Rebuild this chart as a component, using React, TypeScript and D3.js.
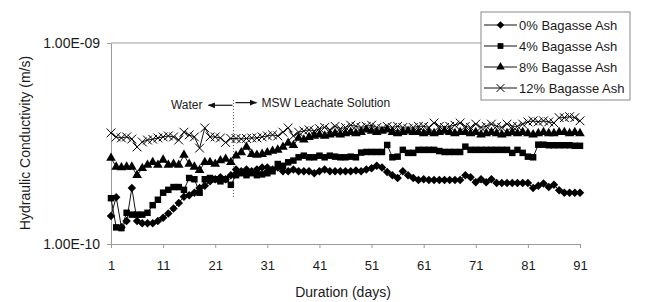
import React, { useEffect, useRef } from 'react';
import * as d3 from 'd3';

// values are in units of 1e-10 m/s, one per day (day 1 .. 91)
const days = d3.range(1, 92);
const unit = 1e-10;

const ash0 = [
  1.38, 1.71, 1.21, 1.3, 1.9, 1.3, 1.27, 1.27, 1.27, 1.3,
  1.35, 1.42, 1.5, 1.6, 1.72, 1.75, 1.8, 1.9, 1.95, 2.05,
  2.1, 2.15, 2.1, 2.2, 2.35, 2.3, 2.35, 2.3, 2.35, 2.4,
  2.4, 2.35, 2.4, 2.3, 2.3, 2.35, 2.3, 2.3, 2.3, 2.25,
  2.3, 2.35, 2.3, 2.3, 2.3, 2.3, 2.3, 2.32, 2.3, 2.35,
  2.38, 2.45, 2.4, 2.28, 2.2, 2.13, 2.3, 2.2, 2.13, 2.08,
  2.1, 2.08, 2.08, 2.08, 2.08, 2.08, 2.08, 2.08, 2.2, 2.15,
  2.03, 2.1, 2.03, 2.1, 2.01, 2.01, 2.01, 2.01, 2.01, 2.01,
  2.01, 1.9, 1.95, 2.0, 1.92, 1.97, 1.85, 1.8, 1.8, 1.8, 1.8,
];
const ash4 = [
  1.69, 1.21, 1.2, 1.43, 1.4, 1.4, 1.4, 1.43, 1.56, 1.66,
  1.8, 1.86, 1.92, 1.92, 1.86, 2.13, 2.1, 1.8, 2.1, 2.13,
  2.1, 2.05, 2.1, 1.97, 2.2, 2.25, 2.2, 2.25, 2.2, 2.22,
  2.25, 2.3, 2.5, 2.45, 2.55, 2.6, 2.7, 2.75, 2.7, 2.7,
  2.75, 2.7, 2.75, 2.72, 2.7, 2.7, 2.72, 2.7, 2.85, 2.87,
  2.87, 2.87, 2.87, 3.11, 2.7, 2.72, 2.94, 2.84, 2.84, 2.94,
  2.94, 2.94, 2.94, 2.9, 2.87, 2.87, 2.87, 2.87, 3.05, 2.94,
  2.94, 2.94, 2.94, 2.94, 2.94, 2.94, 2.94, 2.84, 2.94, 2.84,
  2.72, 2.7, 3.12, 3.12, 3.1, 3.1, 3.1, 3.1, 3.1, 3.08, 3.08,
];
const ash8 = [
  2.68, 2.42, 2.4, 2.42, 2.42, 2.2, 2.38, 2.47, 2.55, 2.47,
  2.62, 2.47, 2.5, 2.47, 2.77, 2.5, 2.42, 2.33, 2.55, 2.55,
  2.5, 2.6, 2.65, 2.55, 2.75, 2.85, 3.04, 2.8, 2.77, 2.8,
  2.85, 2.9, 2.94, 3.04, 3.18, 3.1, 3.37, 3.3, 3.4, 3.45,
  3.5, 3.45, 3.5, 3.55, 3.5, 3.55, 3.6, 3.55, 3.6, 3.7,
  3.65, 3.6, 3.65, 3.7, 3.6, 3.55, 3.6, 3.65, 3.6, 3.6,
  3.55, 3.6, 3.55, 3.6, 3.65, 3.6, 3.55, 3.6, 3.6, 3.55,
  3.6, 3.5, 3.55, 3.6, 3.55, 3.5, 3.55, 3.6, 3.55, 3.6,
  3.55, 3.5, 3.55, 3.6, 3.55, 3.55, 3.6, 3.6, 3.55, 3.6, 3.55,
];
const ash12 = [
  3.57, 3.41, 3.37, 3.41, 3.33, 3.04, 3.22, 3.29, 3.32, 3.37,
  3.41, 3.45, 3.41, 3.29, 3.6, 3.49, 3.41, 3.0, 3.78, 3.41,
  3.41, 3.37, 3.2, 3.35, 3.35, 3.33, 3.35, 3.37, 3.37, 3.41,
  3.45, 3.49, 3.45, 3.6, 3.78, 3.45, 3.6, 3.65, 3.7, 3.65,
  3.75, 3.8, 3.7, 3.85, 3.75, 3.8, 3.9, 3.85, 3.8, 3.85,
  3.9, 3.8, 3.75, 3.85, 3.8, 3.85, 3.8, 3.75, 3.8, 3.85,
  3.85, 3.8, 4.0, 3.85, 3.8, 3.85, 3.9, 4.0, 3.85, 3.8,
  3.95, 3.8, 3.85, 3.95, 3.85, 3.8, 3.95, 3.85, 3.85, 3.95,
  4.05, 4.1, 4.05, 4.1, 4.05, 4.0, 4.25, 4.25, 4.3, 4.25, 4.1,
];

const seriesNames = ['0% Bagasse Ash', '4% Bagasse Ash', '8% Bagasse Ash', '12% Bagasse Ash'];
const seriesValues = [ash0, ash4, ash8, ash12];

const xTicks = [1, 11, 21, 31, 41, 51, 61, 71, 81, 91];
const yTicks = [1e-10, 1e-9];
const yTickLabels = ['1.00E-10', '1.00E-09'];

const switchDay = 24.5; // water -> leachate

const diamond = {
  draw(ctx, size) {
    const r = Math.sqrt(size / 2);
    ctx.moveTo(0, -r);
    ctx.lineTo(r, 0);
    ctx.lineTo(0, r);
    ctx.lineTo(-r, 0);
    ctx.closePath();
  },
};

const markers = [
  { type: diamond, size: 36, filled: true },
  { type: d3.symbolSquare, size: 42, filled: true },
  { type: d3.symbolTriangle, size: 40, filled: true },
  { type: d3.symbolTimes, size: 52, filled: false },
];

function App() {
  const svgRef = useRef(null);

  useEffect(() => {
    const font = '"Liberation Sans", Arial, sans-serif';
    const svg = d3.select(svgRef.current);
    svg.selectAll('*').remove();

    const x = d3.scaleLinear().domain([1, 91]).range([111, 580]);
    const y = d3.scaleLog().domain([1e-10, 1e-9]).range([244, 43]);

    // top gridline
    svg.append('line')
      .attr('x1', x(1)).attr('x2', x(91) + 20)
      .attr('y1', y(1e-9)).attr('y2', y(1e-9))
      .attr('stroke', '#9a9a9a');

    const xAxis = svg.append('g')
      .attr('transform', `translate(0,${y(1e-10)})`)
      .call(d3.axisBottom(x).tickValues(xTicks).tickSize(4).tickSizeOuter(0).tickPadding(13).tickFormat(d3.format('d')));

    const yAxis = svg.append('g')
      .attr('transform', `translate(${x(1)},0)`)
      .call(d3.axisLeft(y).tickValues(yTicks).tickSize(4).tickSizeOuter(0).tickPadding(7)
        .tickFormat((d, i) => yTickLabels[i]));

    [xAxis, yAxis].forEach(g => {
      g.select('.domain').attr('stroke', '#9a9a9a');
      g.selectAll('.tick line').attr('stroke', '#9a9a9a');
      g.selectAll('text').attr('font-family', font).attr('font-size', 13).attr('fill', '#1a1a1a');
    });
    yAxis.selectAll('text').attr('font-size', 14);

    // axis titles
    svg.append('text')
      .attr('x', 343).attr('y', 297)
      .attr('text-anchor', 'middle')
      .attr('font-family', font).attr('font-size', 14).attr('fill', '#1a1a1a')
      .text('Duration (days)');

    svg.append('text')
      .attr('transform', 'translate(30,143) rotate(-90)')
      .attr('text-anchor', 'middle')
      .attr('font-family', font).attr('font-size', 14).attr('fill', '#1a1a1a')
      .text('Hydraulic Conductivity (m/s)');

    // water / leachate annotation
    const sx = x(switchDay);
    svg.append('line')
      .attr('x1', sx).attr('x2', sx)
      .attr('y1', y(5.2 * unit)).attr('y2', y(1.69 * unit))
      .attr('stroke', '#555').attr('stroke-dasharray', '1,2');

    const defs = svg.append('defs');
    defs.append('marker')
      .attr('id', 'arr').attr('viewBox', '0 0 10 10')
      .attr('refX', 9).attr('refY', 5)
      .attr('markerWidth', 7).attr('markerHeight', 6)
      .attr('orient', 'auto-start-reverse')
      .append('path').attr('d', 'M0,1L10,5L0,9Z').attr('fill', '#111');

    const yWater = y(4.9 * unit);
    const yMsw = y(5.05 * unit);
    svg.append('line')
      .attr('x1', sx - 1).attr('x2', sx - 25)
      .attr('y1', yWater).attr('y2', yWater)
      .attr('stroke', '#111').attr('stroke-width', 1.2)
      .attr('marker-end', 'url(#arr)');
    svg.append('line')
      .attr('x1', sx + 2).attr('x2', sx + 23)
      .attr('y1', yMsw).attr('y2', yMsw)
      .attr('stroke', '#111').attr('stroke-width', 1.2)
      .attr('marker-end', 'url(#arr)');

    svg.append('text')
      .attr('x', sx - 31).attr('y', yWater).attr('dy', '0.35em')
      .attr('text-anchor', 'end')
      .attr('font-family', font).attr('font-size', 12).attr('fill', '#1a1a1a')
      .text('Water');
    svg.append('text')
      .attr('x', sx + 28).attr('y', yMsw).attr('dy', '0.35em')
      .attr('font-family', font).attr('font-size', 12).attr('fill', '#1a1a1a')
      .text('MSW Leachate Solution');

    // series
    const line = d3.line<number>()
      .x((d, i) => x(days[i]))
      .y(d => y(d * unit));

    seriesValues.forEach((vals, si) => {
      const g = svg.append('g');
      g.append('path')
        .attr('d', line(vals))
        .attr('fill', 'none')
        .attr('stroke', '#111')
        .attr('stroke-width', 1);
      const m = markers[si];
      const sym = d3.symbol().type(m.type).size(m.size);
      g.selectAll('path.mk')
        .data(vals)
        .enter().append('path')
        .attr('class', 'mk')
        .attr('transform', (d, i) => `translate(${x(days[i])},${y(d * unit)})`)
        .attr('d', sym())
        .attr('fill', m.filled ? '#000' : 'none')
        .attr('stroke', '#000')
        .attr('stroke-width', m.filled ? 0 : 1);
    });

    // legend
    const legend = svg.append('g').attr('transform', 'translate(481,12)');
    legend.append('rect')
      .attr('width', 149).attr('height', 88)
      .attr('fill', '#fff').attr('stroke', '#888');
    const rows = legend.selectAll('.legend')
      .data(seriesNames)
      .enter().append('g')
      .attr('class', 'legend')
      .attr('transform', (d, i) => `translate(0,${13 + i * 21})`);
    rows.append('line')
      .attr('x1', 3).attr('x2', 36)
      .attr('stroke', '#111');
    rows.append('path')
      .attr('transform', 'translate(19.5,0)')
      .attr('d', (d, i) => d3.symbol().type(markers[i].type).size(markers[i].size * 0.8)())
      .attr('fill', (d, i) => markers[i].filled ? '#000' : 'none')
      .attr('stroke', '#000')
      .attr('stroke-width', (d, i) => markers[i].filled ? 0 : 1);
    rows.append('text')
      .attr('x', 38).attr('dy', '0.35em')
      .attr('font-family', font).attr('font-size', 13).attr('fill', '#1a1a1a')
      .text(d => d);
  }, []);

  return (
    <svg
      ref={svgRef}
      width={645}
      height={302}
      style={{ position: 'absolute', left: 0, top: 0, background: '#fff' }}
    />
  );
}

export default App;
